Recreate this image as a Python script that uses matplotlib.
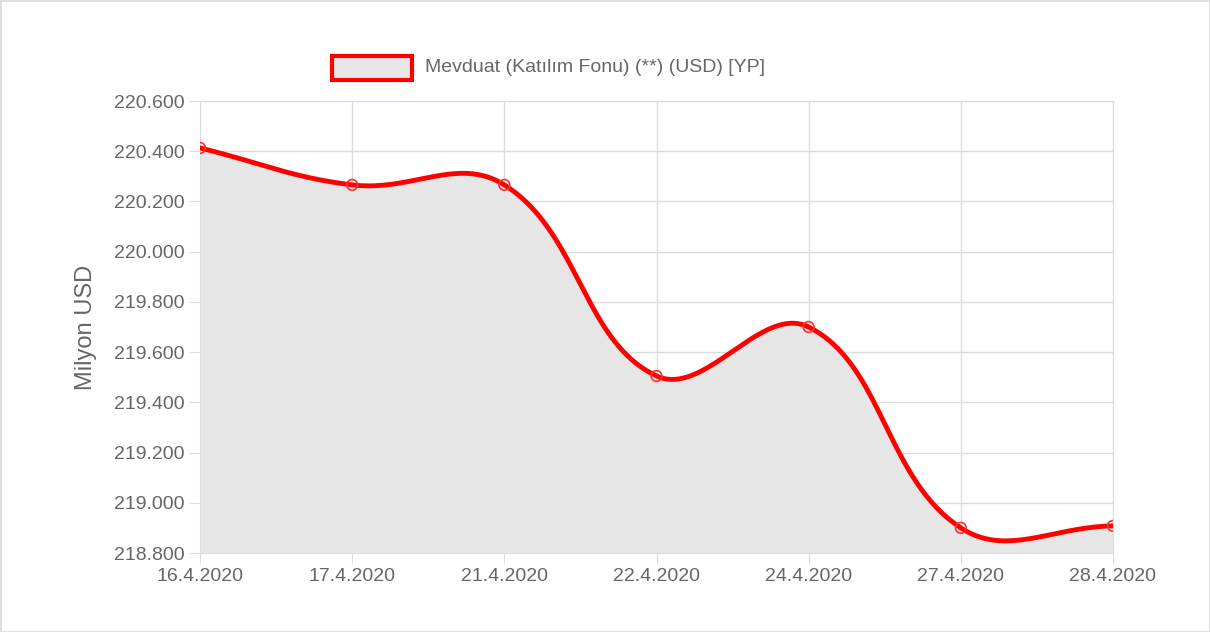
import numpy as np
import matplotlib.pyplot as plt
from matplotlib.ticker import FuncFormatter
from matplotlib.patches import Rectangle

plt.rcParams['font.family'] = ['Liberation Sans', 'DejaVu Sans']

dates = ["16.4.2020", "17.4.2020", "21.4.2020", "22.4.2020", "24.4.2020", "27.4.2020", "28.4.2020"]
values = [220413, 220266, 220266, 219505, 219700, 218900, 218908]
series_label = "Mevduat (Katılım Fonu) (**) (USD) [YP]"

W, H = 1210, 632
fig = plt.figure(figsize=(W / 100, H / 100), dpi=100)
fig.patches.append(Rectangle((0, 0), 1, 1, transform=fig.transFigure, fill=False,
                             edgecolor="#dddddd", linewidth=2))
ax = fig.add_axes([200 / W, 1 - 553 / H, 913 / W, 452 / H])

x = np.arange(len(dates))
ax.set_xlim(0, len(dates) - 1)
ax.set_ylim(218800, 220600)


def spline_path(xs, ys, tension=0.4, n=40):
    # Chart.js style cardinal bezier, computed in pixel space
    pts = ax.transData.transform(np.column_stack([xs, ys]))
    m = len(pts)
    cps = []
    for i in range(m):
        prev = pts[max(i - 1, 0)]
        cur = pts[i]
        nxt = pts[min(i + 1, m - 1)]
        d01 = np.hypot(*(cur - prev))
        d12 = np.hypot(*(nxt - cur))
        tot = d01 + d12
        s01 = d01 / tot if tot else 0
        s12 = d12 / tot if tot else 0
        c1 = cur - tension * s01 * (nxt - prev)
        c2 = cur + tension * s12 * (nxt - prev)
        cps.append((c1, c2))
    out = [pts[0]]
    t = np.linspace(0, 1, n)[1:, None]
    for i in range(m - 1):
        p0, p3 = pts[i], pts[i + 1]
        p1, p2 = cps[i][1], cps[i + 1][0]
        seg = (1 - t) ** 3 * p0 + 3 * (1 - t) ** 2 * t * p1 + 3 * (1 - t) * t ** 2 * p2 + t ** 3 * p3
        out.extend(seg)
    out = ax.transData.inverted().transform(np.array(out))
    return out[:, 0], out[:, 1]


cx, cy = spline_path(x, values)
ax.fill_between(cx, cy, 218800, color="#e6e6e6", zorder=1)
ax.plot(cx, cy, color="#ff0000", linewidth=3.5, zorder=3)
ax.scatter(x, values, s=60, facecolors="none", edgecolors="#ff3030", linewidths=1.2, zorder=4)

ax.set_xticks(x)
ax.set_xticklabels(dates)
ax.set_yticks(np.arange(218800, 220601, 200))
ax.yaxis.set_major_formatter(FuncFormatter(lambda v, p: f"{v / 1000:.3f}"))
ax.grid(True, color="#dcdcdc", linewidth=1)
ax.set_axisbelow(True)
for s in ax.spines.values():
    s.set_color("#dcdcdc")
ax.tick_params(colors="#666666", labelsize=14, length=8, pad=3)
ax.tick_params(axis="both", color="#dcdcdc")
ax.set_ylabel("Milyon USD", color="#666666", fontsize=17, labelpad=12)

# legend
fig.patches.append(Rectangle((332 / W, 1 - 80 / H), 80 / W, 24 / H, transform=fig.transFigure,
                             facecolor="#e6e6e6", edgecolor="#ff0000", linewidth=3))
fig.text(425 / W, 1 - 68 / H, series_label, color="#666666", fontsize=14, va="center")

fig.savefig("out.png", dpi=100, facecolor="white")
